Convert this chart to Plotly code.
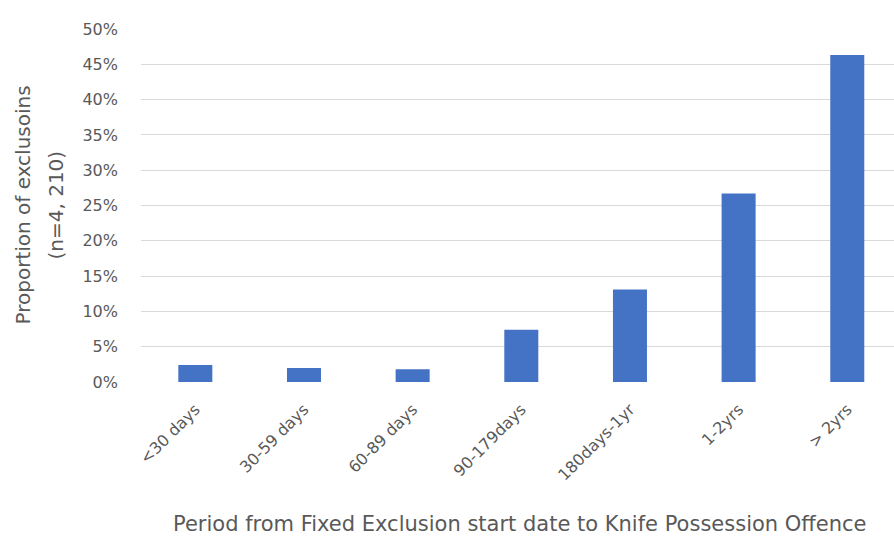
import plotly.graph_objects as go

categories = ["<30 days", "30-59 days", "60-89 days", "90-179days", "180days-1yr", "1-2yrs", "> 2yrs"]
proportions = [2.4, 2.0, 1.8, 7.4, 13.1, 26.7, 46.3]
y_ticks = [0, 5, 10, 15, 20, 25, 30, 35, 40, 45, 50]
y_tick_labels = [f"{v}%" for v in y_ticks]

font_family = "DejaVu Sans, Verdana, sans-serif"
text_grey = "#595959"

fig = go.Figure(
    go.Bar(
        x=categories,
        y=proportions,
        marker=dict(color="#4472C4", line=dict(width=0)),
        hoverinfo="x+y",
    )
)

fig.update_layout(
    width=894,
    height=538,
    margin=dict(l=141, r=0, t=29, b=156),
    paper_bgcolor="white",
    plot_bgcolor="white",
    bargap=0.687,
    showlegend=False,
    font=dict(family=font_family, color=text_grey, size=16),
    xaxis=dict(
        type="category",
        range=[-0.5, 6.43],
        tickangle=-45,
        tickfont=dict(size=16, color=text_grey),
        showgrid=False,
        showline=False,
        zeroline=False,
        ticks="",
        ticklabelstandoff=14,
    ),
    yaxis=dict(
        range=[0, 50],
        tickvals=y_ticks,
        ticktext=y_tick_labels,
        tickfont=dict(size=16, color=text_grey),
        showgrid=True,
        gridcolor="#d9d9d9",
        gridwidth=1,
        zeroline=False,
        showline=False,
        ticks="",
        ticklabelstandoff=22,
    ),
    annotations=[
        dict(
            text="Proportion of exclusoins",
            textangle=-90,
            xref="paper", yref="paper",
            x=-141 / 753 + 22 / 753, y=0.5,
            xanchor="center", yanchor="middle",
            showarrow=False,
            font=dict(size=20, color=text_grey, family=font_family),
        ),
        dict(
            text="(n=4, 210)",
            textangle=-90,
            xref="paper", yref="paper",
            x=-141 / 753 + 55 / 753, y=0.5,
            xanchor="center", yanchor="middle",
            showarrow=False,
            font=dict(size=20, color=text_grey, family=font_family),
        ),
        dict(
            text="Period from Fixed Exclusion start date to Knife Possession Offence",
            xref="paper", yref="paper",
            x=(520 - 141) / 753, y=-(524 - 382) / 353,
            xanchor="center", yanchor="middle",
            showarrow=False,
            font=dict(size=21, color=text_grey, family=font_family),
        ),
    ],
)

fig.write_html("out.html")
